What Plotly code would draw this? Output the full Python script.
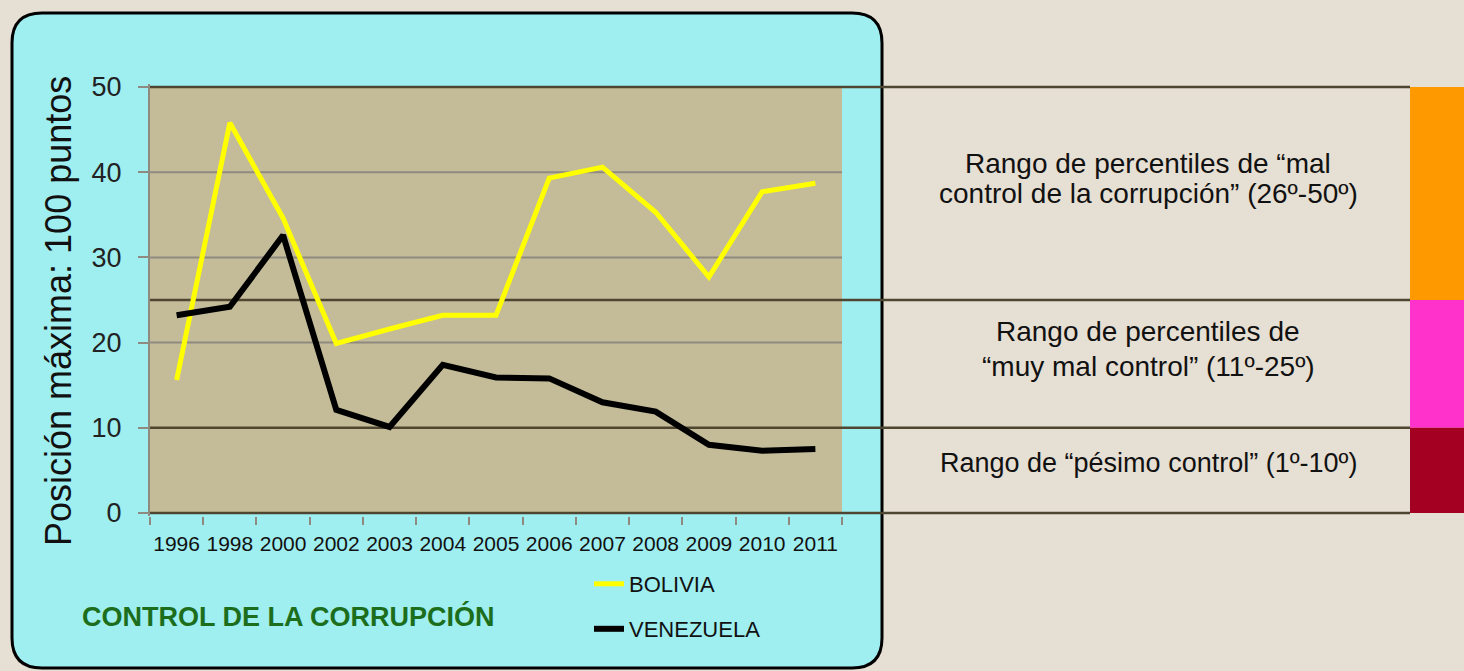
import plotly.graph_objects as go

years = ["1996", "1998", "2000", "2002", "2003", "2004", "2005", "2006",
         "2007", "2008", "2009", "2010", "2011"]
bolivia = [15.6, 45.8, 34.6, 19.9, 21.6, 23.2, 23.2, 39.3, 40.6, 35.3, 27.7, 37.7, 38.7]
venezuela = [23.2, 24.2, 32.6, 12.1, 10.1, 17.4, 15.9, 15.8, 13.0, 11.9, 8.0, 7.3, 7.5]
y_ticks = [0, 10, 20, 30, 40, 50]
grey_grid = [20, 30, 40]
band_lines = [50, 25, 10, 0]
bands = [(25, 50, "#ff9900"), (10, 25, "#ff33cc"), (0, 10, "#a30022")]
band_texts = [
    (39.3, 30, 28, ["Rango de percentiles de “mal", "control de la corrupción” (26º-50º)"]),
    (19.2, 35, 28, ["Rango de percentiles de", "“muy mal control” (11º-25º)"]),
    (5.9, 0, 27, ["Rango de “pésimo control” (1º-10º)"]),
]

W, H = 1464, 671
ARIAL = "Liberation Sans, Arial, sans-serif"

def px(x):
    return x / W

def py(y):
    return 1 - y / H

# plot area in pixels
PL, PR, PT, PB = 150, 842, 87, 513
pad = 0.3
unit = (PB - PT) / 50.0
ydom = [py(PB + pad * unit), py(PT - pad * unit)]

fig = go.Figure()
fig.add_trace(go.Scatter(x=years, y=bolivia, mode="lines", name="BOLIVIA",
                         line=dict(color="#ffff00", width=5), legend="legend"))
fig.add_trace(go.Scatter(x=years, y=venezuela, mode="lines", name="VENEZUELA",
                         line=dict(color="#000000", width=6), legend="legend2"))

shapes = []
# cyan rounded box
x0, x1, yt, yb = px(12), px(882), py(13), py(668)
rx, ry = px(30), 30 / H
path = (f"M{x0+rx},{yt} L{x1-rx},{yt} Q{x1},{yt} {x1},{yt-ry} "
        f"L{x1},{yb+ry} Q{x1},{yb} {x1-rx},{yb} L{x0+rx},{yb} "
        f"Q{x0},{yb} {x0},{yb+ry} L{x0},{yt-ry} Q{x0},{yt} {x0+rx},{yt} Z")
shapes.append(dict(type="path", path=path, xref="paper", yref="paper",
                   fillcolor="#9feef0", line=dict(color="#000000", width=3),
                   layer="below"))
# plot background
shapes.append(dict(type="rect", xref="paper", yref="paper",
                   x0=px(PL), x1=px(PR), y0=py(PB), y1=py(PT),
                   fillcolor="#c4bc98", line=dict(width=0), layer="below"))
# grey gridlines
for g in grey_grid:
    shapes.append(dict(type="line", xref="paper", yref="y", x0=px(PL), x1=px(PR),
                       y0=g, y1=g, line=dict(color="#8e8a80", width=2), layer="below"))
# colored bands on the right
for lo, hi, col in bands:
    shapes.append(dict(type="rect", xref="paper", yref="y", x0=px(1410), x1=1.0,
                       y0=lo, y1=hi, fillcolor=col, line=dict(width=0), layer="below"))
# dark threshold lines
for v in band_lines:
    shapes.append(dict(type="line", xref="paper", yref="y", x0=px(PL), x1=px(1410),
                       y0=v, y1=v, line=dict(color="#4e4630", width=2.5), layer="below"))

annotations = []
for yv, spacing, size, lines in band_texts:
    n = len(lines)
    for i, t in enumerate(lines):
        off = (i - (n - 1) / 2) * spacing
        annotations.append(dict(text=t, xref="paper", yref="y", x=px(1148), y=yv,
                                yshift=-off, showarrow=False,
                                font=dict(family=ARIAL, size=size, color="#111111"),
                                xanchor="center", yanchor="middle"))
annotations.append(dict(text="<b>CONTROL DE LA CORRUPCIÓN</b>", xref="paper", yref="paper",
                        x=px(288), y=py(616), showarrow=False,
                        font=dict(family=ARIAL, size=27, color="#1c6e1c"),
                        xanchor="center", yanchor="middle"))
annotations.append(dict(text="Posición máxima: 100 puntos", xref="paper", yref="paper",
                        x=px(58), y=py(311), showarrow=False, textangle=-90,
                        font=dict(family=ARIAL, size=36, color="#111111"),
                        xanchor="center", yanchor="middle"))

fig.update_layout(
    width=W, height=H,
    margin=dict(l=0, r=0, t=0, b=0, autoexpand=False),
    paper_bgcolor="#e6dfd3",
    plot_bgcolor="rgba(0,0,0,0)",
    shapes=shapes,
    annotations=annotations,
    showlegend=True,
    legend=dict(x=px(589), y=py(584), xanchor="left", yanchor="middle",
                bgcolor="rgba(0,0,0,0)", borderwidth=0,
                font=dict(family=ARIAL, size=22, color="#111111")),
    legend2=dict(x=px(589), y=py(629), xanchor="left", yanchor="middle",
                 bgcolor="rgba(0,0,0,0)", borderwidth=0,
                 font=dict(family=ARIAL, size=22, color="#111111")),
    xaxis=dict(domain=[px(PL), px(PR)], type="category", range=[-0.5, 12.5],
               automargin=False,
               showgrid=False, zeroline=False, showline=False,
               ticks="outside", ticklen=8, tickwidth=2, tickcolor="#8e8a80",
               tickson="boundaries", tickangle=0, ticklabelstandoff=13,
               tickfont=dict(family=ARIAL, size=21, color="#111111"),
               fixedrange=True),
    yaxis=dict(domain=ydom, range=[-pad, 50 + pad], tickvals=y_ticks,
               automargin=False,
               showgrid=False, zeroline=False, showline=True, linecolor="#8e8a80",
               linewidth=2, ticks="outside", ticklen=10, tickwidth=2,
               tickcolor="#8e8a80", ticklabelstandoff=11,
               tickfont=dict(family=ARIAL, size=27, color="#222222"),
               fixedrange=True),
)

fig.write_html("out.html",
               config={"displayModeBar": False},
               post_script="document.body.style.margin='0';"
                           "document.body.style.overflow='hidden';")
